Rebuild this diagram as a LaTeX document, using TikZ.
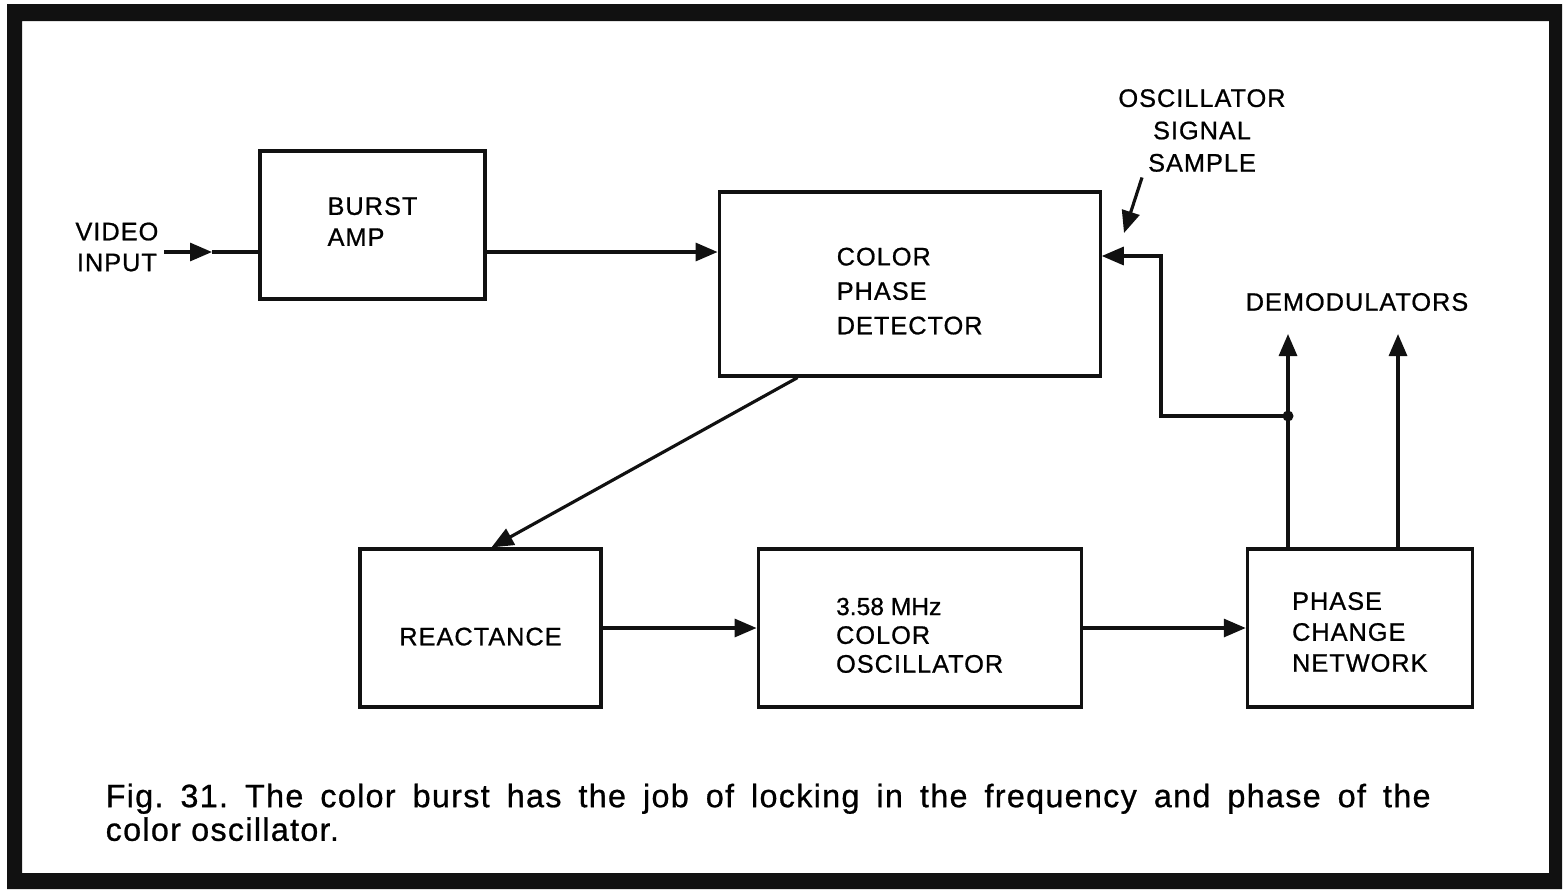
\documentclass[tikz,border=0pt]{standalone}
\usepackage{fontspec}
\setmainfont{Liberation Sans}
\newfontfamily\spacedfont[LetterSpace=4,FakeBold=0.8]{Liberation Sans}
\newfontfamily\plainfont[FakeBold=0.8]{Liberation Sans}
\usetikzlibrary{positioning,arrows.meta}
\definecolor{ink}{HTML}{111111}
\newcommand{\labelsize}{\fontsize{7.2}{8.8}\selectfont}
\newcommand{\plainsize}{\plainfont\fontsize{7}{8.2}\selectfont}
\frenchspacing
\tikzset{
  block/.style   = {draw=ink, line width=0.9pt, align=left, inner sep=0pt,
                    font=\spacedfont\labelsize},
  tag/.style     = {align=center, inner sep=0.5mm, font=\spacedfont\labelsize},
  caption/.style = {align=justify, inner sep=0pt,
                    font=\spacedfont\fontsize{9.2}{8.1}\selectfont},
  flow/.style    = {-{Triangle[length=2.2mm,width=1.8mm]}, draw=ink, line width=0.9pt},
  wire/.style    = {draw=ink, line width=0.9pt},
}

\begin{document}
\begin{tikzpicture}[x=1mm, y=1mm]
  \useasboundingbox (0,0) rectangle (156.8,-88.9);
  \fill[ink, even odd rule] (0.7,-0.4) rectangle (156.2,-88.9) (2.2,-2.1) rectangle (154.9,-87.3);

  \node[block, minimum width=22.5mm, minimum height=14.8mm, text depth=0.7mm] (burst) at (37.25,-22.5)
       {BURST\\ AMP};
  \node[block, right=23.1mm of burst, yshift=-5.9mm, minimum width=38.1mm, minimum height=18.4mm,
        text height=28.6pt, text depth=0pt, font=\spacedfont\fontsize{7.2}{9.8}\selectfont] (detector)
       {COLOR\\ PHASE\\ DETECTOR};
  \node[block, align=center, minimum width=24.1mm, minimum height=15.8mm,
        text height=9.85pt, text depth=0pt] (react) at (48.05,-62.8) {REACTANCE};
  \node[block, right=15.4mm of react, minimum width=32.3mm, minimum height=15.8mm,
        text height=25.4pt, text depth=0pt, font=\spacedfont\fontsize{7.2}{8.2}\selectfont] (osc)
       {{\plainsize 3.58 MHz}\\ COLOR\\ OSCILLATOR};
  \node[block, right=16.3mm of osc, minimum width=22.5mm, minimum height=15.8mm,
        text height=24.85pt, text depth=0pt] (pcn)
       {PHASE\\ CHANGE\\ NETWORK};

  \node[tag, anchor=east] (video) at (16.4,-24.7) {VIDEO\\ INPUT};
  \coordinate (vtip) at (21.2,-25.2);
  \draw[flow] (video.east |- vtip) -- (vtip);
  \draw[wire] (vtip) -- (vtip -| burst.west);
  \draw[flow] (burst.east |- vtip) -- (vtip -| detector.west);

  \node[tag, font=\spacedfont\fontsize{7.2}{9.2}\selectfont] (sample) at (120.2,-13.05)
       {OSCILLATOR\\ SIGNAL\\ SAMPLE};
  \coordinate (ptr) at (112.4,-23.3);
  \draw[flow] ([xshift=-6mm]sample.south) -- (ptr);

  \node[tag] (demod) at (135.7,-30.2) {DEMODULATORS};
  \coordinate (dm1) at (128.8,-33.4);
  \coordinate (dm2) at (139.8,-33.4);
  \draw[flow] (pcn.north -| dm1) -- (dm1);
  \draw[flow] (pcn.north -| dm2) -- (dm2);

  % sample of the oscillator fed back to the detector
  \coordinate (jn) at (128.8,-41.6);
  \coordinate (fb) at (116.1,-25.6);
  \draw[flow] (jn) -| (fb) -- (fb -| detector.east);
  \fill[ink] (jn) circle (0.55mm);

  \draw[flow] ([xshift=8mm]detector.south west) -- ([xshift=13.3mm]react.north west);
  \draw[flow] (react) -- (osc);
  \draw[flow] (osc) -- (pcn);

  \node[caption, text width=132.5mm, anchor=north west] (cap) at (10.5,-78.3)
       {Fig. 31. The color burst has the job of locking in the frequency and phase of the\linebreak
        color oscillator.};
\end{tikzpicture}
\end{document}
